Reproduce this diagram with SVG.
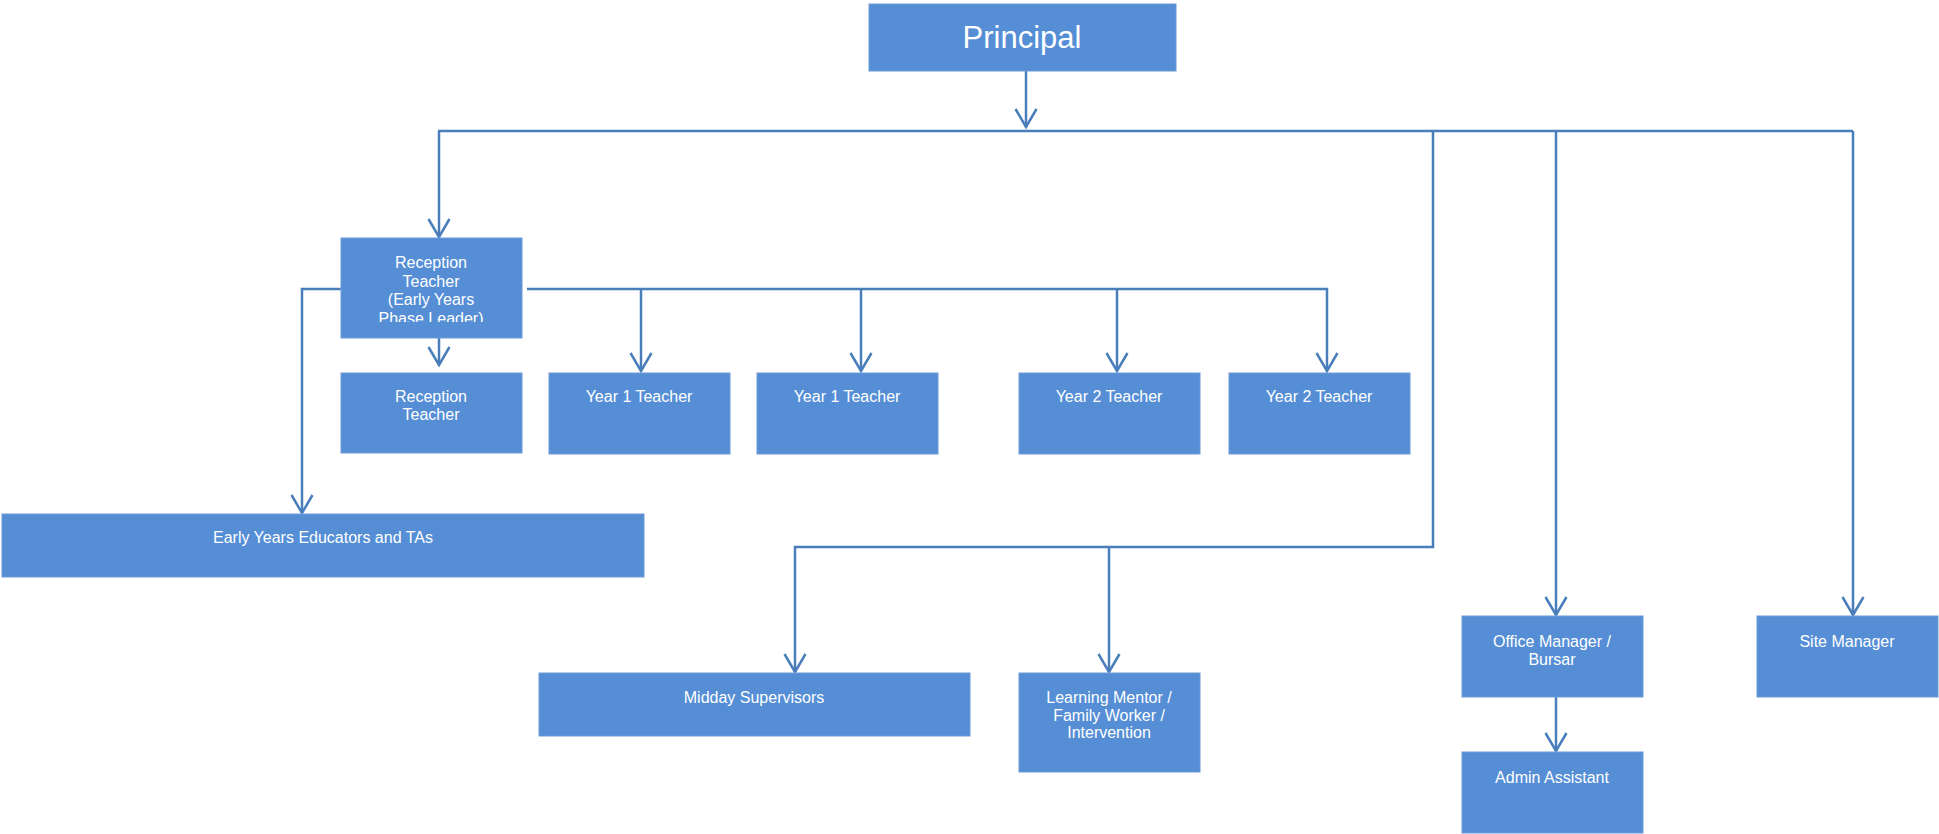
<svg xmlns="http://www.w3.org/2000/svg" width="1939" height="834" viewBox="0 0 1939 834">
<style>
.box{fill:#558ED5;stroke:#6C9BD8;stroke-width:1}
.t{font-family:"Liberation Sans",Arial,sans-serif;font-size:16px;fill:#ffffff;text-anchor:middle}
.big{font-size:31px}
.c{fill:none;stroke:#4A7EBB;stroke-width:2.5}
</style>
<defs>
<marker id="arr" markerUnits="userSpaceOnUse" viewBox="0 0 24 24" markerWidth="24" markerHeight="24" refX="19" refY="11.5" orient="auto" overflow="visible">
<path d="M1,1 L19,11.5 L1,22" fill="none" stroke="#4A7EBB" stroke-width="2.5"/>
</marker>
<clipPath id="clipLead"><rect x="341" y="238" width="181" height="84"/></clipPath>
</defs>
<rect width="1939" height="834" fill="#ffffff"/>
<g id="connectors">
<path class="c" d="M1026,71 V127" marker-end="url(#arr)"/>
<path class="c" d="M438,131 H1853"/>
<path class="c" d="M439,131 V237" marker-end="url(#arr)"/>
<path class="c" d="M1556,131 V615" marker-end="url(#arr)"/>
<path class="c" d="M1853,131 V615" marker-end="url(#arr)"/>
<path class="c" d="M1433,131 V547 H795 V672" marker-end="url(#arr)"/>
<path class="c" d="M1109,547 V672" marker-end="url(#arr)"/>
<path class="c" d="M1556,697 V751" marker-end="url(#arr)"/>
<path class="c" d="M352,289 H302 V513" marker-end="url(#arr)"/>
<path class="c" d="M439,334 V365" marker-end="url(#arr)"/>
<path class="c" d="M527,289 H1327 V371" marker-end="url(#arr)"/>
<path class="c" d="M641,289 V371" marker-end="url(#arr)"/>
<path class="c" d="M861,289 V371" marker-end="url(#arr)"/>
<path class="c" d="M1117,289 V371" marker-end="url(#arr)"/>
</g>
<g id="principal"><rect class="box" x="869" y="4" width="307" height="67"/><text class="t big" x="1022" y="48">Principal</text></g>
<g id="reception-lead"><rect class="box" x="341" y="238" width="181" height="100"/>
<g clip-path="url(#clipLead)"><text class="t" x="431" y="268">Reception</text><text class="t" x="431" y="287">Teacher</text><text class="t" x="431" y="305">(Early Years</text><text class="t" x="431" y="324">Phase Leader)</text></g></g>
<g id="reception"><rect class="box" x="341" y="373" width="181" height="80"/><text class="t" x="431" y="402">Reception</text><text class="t" x="431" y="420">Teacher</text></g>
<g id="year1a"><rect class="box" x="549" y="373" width="181" height="81"/><text class="t" x="639" y="402">Year 1 Teacher</text></g>
<g id="year1b"><rect class="box" x="757" y="373" width="181" height="81"/><text class="t" x="847" y="402">Year 1 Teacher</text></g>
<g id="year2a"><rect class="box" x="1019" y="373" width="181" height="81"/><text class="t" x="1109" y="402">Year 2 Teacher</text></g>
<g id="year2b"><rect class="box" x="1229" y="373" width="181" height="81"/><text class="t" x="1319" y="402">Year 2 Teacher</text></g>
<g id="early-years"><rect class="box" x="2" y="514" width="642" height="63"/><text class="t" x="323" y="543">Early Years Educators and TAs</text></g>
<g id="midday"><rect class="box" x="539" y="673" width="431" height="63"/><text class="t" x="754" y="703">Midday Supervisors</text></g>
<g id="mentor"><rect class="box" x="1019" y="673" width="181" height="99"/><text class="t" x="1109" y="703">Learning Mentor /</text><text class="t" x="1109" y="721">Family Worker /</text><text class="t" x="1109" y="738">Intervention</text></g>
<g id="office"><rect class="box" x="1462" y="616" width="181" height="81"/><text class="t" x="1552" y="647">Office Manager /</text><text class="t" x="1552" y="665">Bursar</text></g>
<g id="admin"><rect class="box" x="1462" y="752" width="181" height="81"/><text class="t" x="1552" y="783">Admin Assistant</text></g>
<g id="site"><rect class="box" x="1757" y="616" width="181" height="81"/><text class="t" x="1847" y="647">Site Manager</text></g>
</svg>
